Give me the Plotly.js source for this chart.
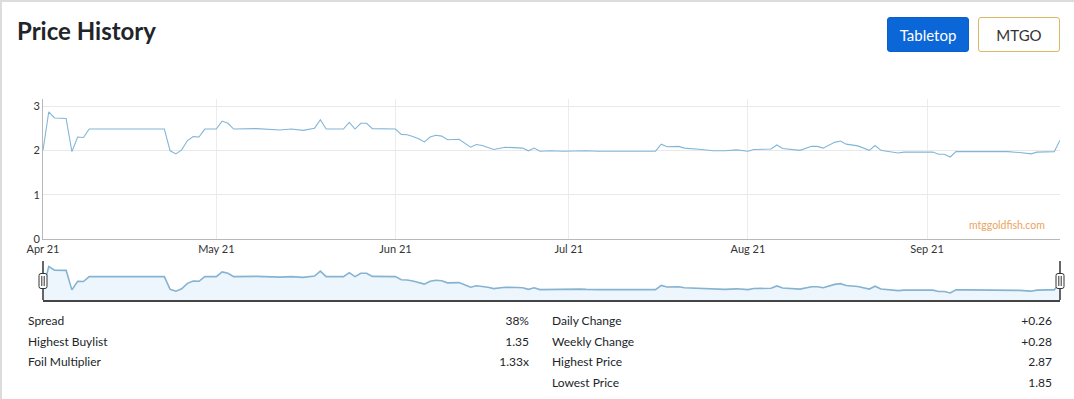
<!DOCTYPE html>
<html>
<head>
<meta charset="utf-8">
<script src="https://cdn.plot.ly/plotly-3.0.1.min.js"></script>
<style>
  html, body { margin:0; padding:0; background:#fff; overflow:hidden; }
  body { width:1074px; height:399px; position:relative; font-family: Lato, "Open Sans", sans-serif; color:#212529; }
  #card { position:absolute; left:0; top:0; width:1100px; height:420px; border-top:2px solid #dcdcdc; border-left:2px solid #dcdcdc; box-sizing:border-box; }
  #title { position:absolute; left:17px; top:19px; font-size:24px; line-height:24px; font-weight:700; color:#212529; white-space:nowrap; }
  .btn { position:absolute; top:17px; width:82px; height:35px; box-sizing:border-box; border-radius:3px; display:flex; align-items:center; justify-content:center; font-size:15px; }
  #tabletop { left:887px; background:#0b66d8; color:#fff; border:1px solid #0b5fc9; }
  #mtgo { left:978px; background:#fff; color:#333; border:1px solid #d9b866; }
  #chart { position:absolute; left:0; top:0; width:1074px; height:310px; }
  .stat { position:absolute; font-size:12px; line-height:20px; height:20px; color:#212529; white-space:nowrap; }
  .val { text-align:right; }
</style>
</head>
<body>
<div id="card"></div>
<div id="title">Price History</div>
<div class="btn" id="tabletop">Tabletop</div>
<div class="btn" id="mtgo">MTGO</div>
<div id="chart"></div>
<div id="stats"></div>
<script>
const dates = [
 '2021-04-21','2021-04-22','2021-04-23','2021-04-24','2021-04-25','2021-04-26','2021-04-27','2021-04-28','2021-04-29',
 '2021-05-12','2021-05-13','2021-05-14','2021-05-15','2021-05-16','2021-05-17','2021-05-18','2021-05-19',
 '2021-05-21','2021-05-22','2021-05-23','2021-05-24','2021-05-28',
 '2021-06-01','2021-06-03','2021-06-05','2021-06-07','2021-06-08','2021-06-09','2021-06-12','2021-06-13','2021-06-14',
 '2021-06-15','2021-06-16','2021-06-17','2021-06-21','2021-06-22','2021-06-23','2021-06-24','2021-06-25','2021-06-26',
 '2021-06-27','2021-06-28','2021-06-29','2021-06-30',
 '2021-07-02','2021-07-04','2021-07-05','2021-07-06','2021-07-07','2021-07-08','2021-07-10','2021-07-12','2021-07-13',
 '2021-07-14','2021-07-15','2021-07-16','2021-07-18','2021-07-20','2021-07-23','2021-07-24','2021-07-26',
 '2021-08-05','2021-08-06','2021-08-07','2021-08-09','2021-08-10','2021-08-13','2021-08-15','2021-08-17','2021-08-19',
 '2021-08-21','2021-08-22','2021-08-25','2021-08-26','2021-08-27','2021-08-30',
 '2021-09-01','2021-09-02','2021-09-03','2021-09-05','2021-09-06','2021-09-07','2021-09-09','2021-09-11','2021-09-12',
 '2021-09-13','2021-09-14','2021-09-16','2021-09-17','2021-09-20','2021-09-22','2021-09-23','2021-09-24','2021-09-25',
 '2021-09-26','2021-09-28',
 '2021-10-01','2021-10-03','2021-10-05','2021-10-07','2021-10-09','2021-10-10','2021-10-12','2021-10-13','2021-10-14'
];
const prices = [
 2.00,2.87,2.73,2.72,2.72,1.97,2.30,2.29,2.48,
 2.48,1.99,1.92,2.01,2.22,2.31,2.30,2.48,
 2.48,2.66,2.61,2.48,2.49,
 2.46,2.48,2.45,2.50,2.69,2.48,2.48,2.63,2.48,
 2.61,2.61,2.49,2.48,2.36,2.35,2.31,2.26,2.19,
 2.30,2.34,2.32,2.24,
 2.25,2.07,2.13,2.11,2.07,2.02,2.07,2.06,2.05,
 1.99,2.05,1.98,1.99,1.98,2.00,1.99,1.98,
 1.98,2.14,2.08,2.09,2.05,2.02,1.99,1.99,2.01,
 1.98,2.02,2.03,2.12,2.04,2.00,
 2.09,2.09,2.05,2.18,2.21,2.14,2.10,2.00,2.11,
 2.00,1.98,1.94,1.96,1.97,1.96,1.91,1.91,1.85,
 1.97,1.97,
 1.97,1.96,1.97,1.95,1.92,1.96,1.97,1.97,2.23
];
const tickDates = ['2021-04-21','2021-05-21','2021-06-21','2021-07-21','2021-08-21','2021-09-21'];
const tickLabels = ['Apr 21','May 21','Jun 21','Jul 21','Aug 21','Sep 21'];
const yTicks = [0, 1, 2, 3];
const statLabelsLeft = ['Spread','Highest Buylist','Foil Multiplier'];
const statValuesLeft = ['38%','1.35','1.33x'];
const statLabelsRight = ['Daily Change','Weekly Change','Highest Price','Lowest Price'];
const statValuesRight = ['+0.26','+0.28','2.87','1.85'];
const watermark = 'mtggoldfish.com';

// stats table
const stats = document.getElementById('stats');
function addStat(text, left, top, width, cls) {
  const d = document.createElement('div');
  d.className = 'stat' + (cls ? ' ' + cls : '');
  d.textContent = text;
  d.style.left = left + 'px';
  d.style.top = top + 'px';
  if (width) d.style.width = width + 'px';
  stats.appendChild(d);
}
statLabelsLeft.forEach((t, i) => addStat(t, 28, 311 + i * 20.5));
statValuesLeft.forEach((t, i) => addStat(t, 400, 311 + i * 20.5, 129, 'val'));
statLabelsRight.forEach((t, i) => addStat(t, 552, 311 + i * 20.5));
statValuesRight.forEach((t, i) => addStat(t, 950, 311 + i * 20.5, 102, 'val'));

const first = dates[0], last = dates[dates.length - 1];
const lineColor = '#82b6d8';

const traces = [
  { x: dates, y: prices, type: 'scatter', mode: 'lines', xaxis: 'x', yaxis: 'y',
    line: { color: lineColor, width: 1.1 }, hoverinfo: 'skip' },
  { x: dates, y: prices, type: 'scatter', mode: 'lines', xaxis: 'x2', yaxis: 'y2',
    fill: 'tozeroy', fillcolor: '#edf6fd', line: { color: '#86b3d2', width: 1.6 }, hoverinfo: 'skip' }
];

// range-selector handles at both ends of the plotted range (paper 0 and 1 = first/last date)
const sliderTop = 0.194, handleY = 0.0945;
function handle(px) {
  return [
    { type: 'line', xref: 'paper', yref: 'paper', x0: px, x1: px, y0: 0, y1: sliderTop,
      line: { color: '#333', width: 1.5 } },
    { type: 'path', xref: 'paper', yref: 'paper', xsizemode: 'pixel', ysizemode: 'pixel',
      xanchor: px, yanchor: handleY,
      path: 'M -4,-5.5 Q -4,-7.5 -2,-7.5 L 2,-7.5 Q 4,-7.5 4,-5.5 L 4,5.5 Q 4,7.5 2,7.5 L -2,7.5 Q -4,7.5 -4,5.5 Z',
      fillcolor: '#fff', line: { color: '#333', width: 1 } },
    { type: 'path', xref: 'paper', yref: 'paper', xsizemode: 'pixel', ysizemode: 'pixel',
      xanchor: px, yanchor: handleY,
      path: 'M -1.2,-5 L -1.2,5 M 1.2,-5 L 1.2,5',
      line: { color: '#333', width: 1 } }
  ];
}

const layout = {
  width: 1074, height: 310,
  margin: { l: 43, r: 14, t: 99, b: 10, pad: 0 },
  paper_bgcolor: 'rgba(0,0,0,0)', plot_bgcolor: 'rgba(0,0,0,0)',
  showlegend: false,
  font: { family: 'Lato, sans-serif', size: 11, color: '#333' },
  xaxis: { type: 'date', range: [first, last], anchor: 'y', domain: [0, 1],
    tickmode: 'array', tickvals: tickDates, ticktext: tickLabels,
    showgrid: true, gridcolor: '#ececec', gridwidth: 1,
    showline: true, linecolor: '#b8b8b8', linewidth: 1, ticks: '', zeroline: false,
    tickfont: { size: 11, color: '#333' } },
  yaxis: { domain: [0.3035, 1], range: [0, 3.158], anchor: 'x',
    tickmode: 'array', tickvals: yTicks,
    showgrid: true, gridcolor: '#e9e9e9', gridwidth: 1,
    showline: true, linecolor: '#b8b8b8', linewidth: 1, ticks: '', zeroline: false,
    tickfont: { size: 11, color: '#333' } },
  xaxis2: { type: 'date', range: [first, last], anchor: 'y2', domain: [0, 1],
    showticklabels: false, showgrid: false, zeroline: false, ticks: '',
    showline: true, linecolor: '#444', linewidth: 2 },
  yaxis2: { domain: [0, sliderTop], range: [1.58, 3.08], anchor: 'x2', visible: false },
  annotations: [
    { text: watermark, xref: 'paper', yref: 'paper', x: 0.9869, y: 0.372,
      xanchor: 'right', yanchor: 'middle', showarrow: false,
      font: { family: 'Lato, sans-serif', size: 10.5, color: '#eba35e' } }
  ],
  shapes: [].concat(handle(0), handle(1))
};

Plotly.newPlot('chart', traces, layout, { staticPlot: true, displayModeBar: false });
</script>
</body>
</html>
